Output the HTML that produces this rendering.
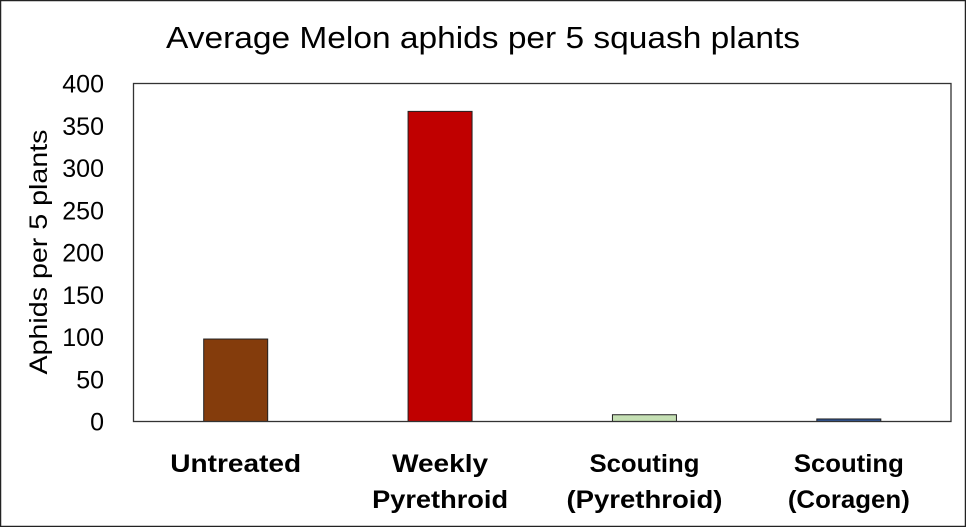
<!DOCTYPE html>
<html><head><meta charset="utf-8"><style>
html,body{margin:0;padding:0;background:#fff}
svg{display:block;font-family:"Liberation Sans",sans-serif}
</style></head><body>
<svg id="chart" width="966" height="527" xmlns="http://www.w3.org/2000/svg">
<rect x="0.5" y="0.5" width="965" height="526" fill="#fff" stroke="#222" stroke-width="1.5"/>
<text x="483" y="48" font-size="31" text-anchor="middle" textLength="634" lengthAdjust="spacingAndGlyphs">Average Melon aphids per 5 squash plants</text>
<text transform="translate(47,252) rotate(-90)" font-size="25" text-anchor="middle" textLength="245" lengthAdjust="spacingAndGlyphs">Aphids per 5 plants</text>
<g id="yticks"></g>
<g id="bars"></g>
<g id="xlabels"></g>
<rect x="133.5" y="83.5" width="817.5" height="338" fill="none" stroke="#333" stroke-width="1.3"/>
</svg>
<script>
const categories = [["Untreated"], ["Weekly","Pyrethroid"], ["Scouting","(Pyrethroid)"], ["Scouting","(Coragen)"]];
const values = [97.6, 367, 8, 3];
const colors = ["#843c0c", "#c00000", "#c5e0b4", "#2f5597"];
const yTicks = [0, 50, 100, 150, 200, 250, 300, 350, 400];
const yMax = 400;
const labelWidths = [[131], [96, 136], [110, 156], [110, 122]];
const px0 = 133.5, px1 = 951, py0 = 421.5, py1 = 83.5;
const ns = "http://www.w3.org/2000/svg";
function yScale(v){ return py0 - (v / yMax) * (py0 - py1); }
const band = (px1 - px0) / categories.length;
function xCenter(i){ return px0 + band * (i + 0.5); }
const yt = document.getElementById('yticks');
yTicks.forEach(t => {
  const el = document.createElementNS(ns, 'text');
  
  
  el.setAttribute('x', 104);
  el.setAttribute('y', yScale(t) + 9);
  el.setAttribute('font-size', '25');
  el.setAttribute('text-anchor', 'end');
  el.textContent = t;
  yt.appendChild(el);
});
const bg = document.getElementById('bars');
const xl = document.getElementById('xlabels');
const bw = 64;
values.forEach((v, i) => {
  const r = document.createElementNS(ns, 'rect');
  
  
  r.setAttribute('x', xCenter(i) - bw / 2);
  r.setAttribute('y', yScale(v));
  r.setAttribute('width', bw);
  r.setAttribute('height', py0 - yScale(v));
  r.setAttribute('fill', colors[i]);
  r.setAttribute('stroke', '#222');
  r.setAttribute('stroke-width', '1');
  bg.appendChild(r);
  categories[i].forEach((line, j) => {
    const t = document.createElementNS(ns, 'text');
    
    
    t.setAttribute('x', xCenter(i));
    t.setAttribute('y', 472 + j * 36);
    t.setAttribute('font-size', '25');
    t.setAttribute('font-weight', 'bold');
    t.setAttribute('text-anchor', 'middle');
    t.setAttribute('textLength', labelWidths[i][j]);
    t.setAttribute('lengthAdjust', 'spacingAndGlyphs');
    t.textContent = line;
    xl.appendChild(t);
  });
});
</script>
</body></html>
